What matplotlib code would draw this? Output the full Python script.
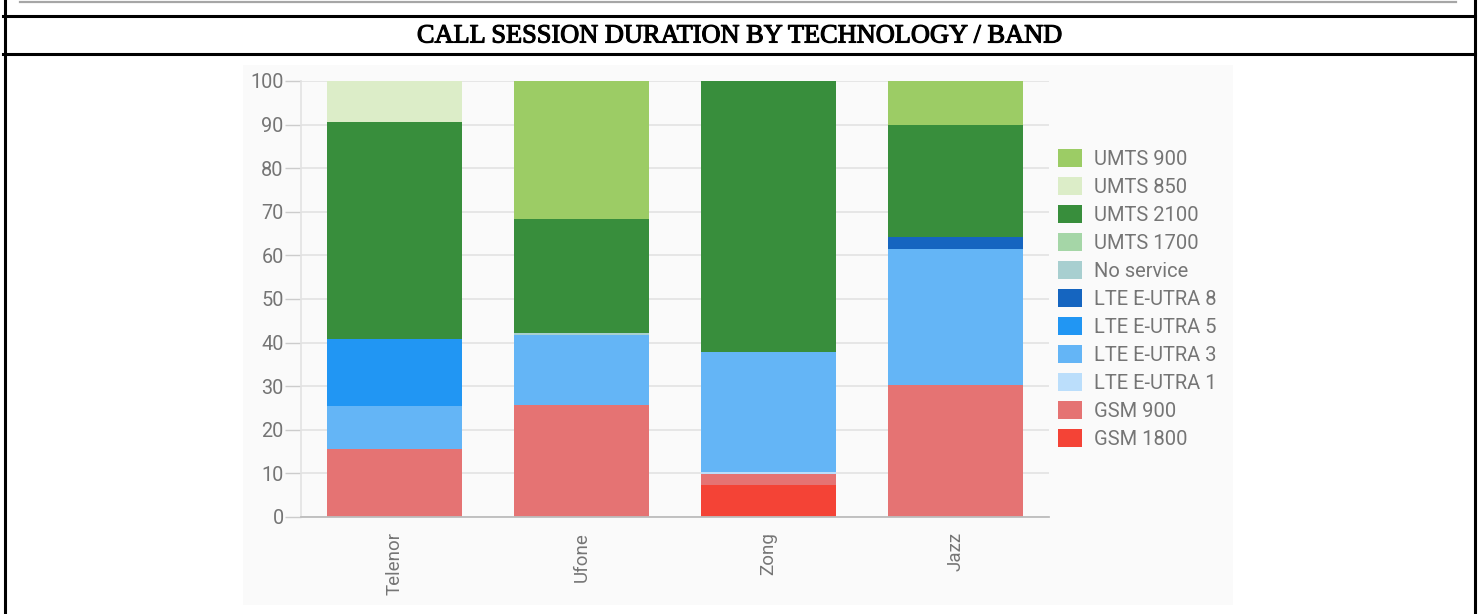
import matplotlib
matplotlib.use("Agg")
import matplotlib.pyplot as plt
from matplotlib.patches import Rectangle, Patch
from matplotlib.lines import Line2D
import matplotlib.patheffects as pe
import numpy as np

# ---- data ----
operators = ["Telenor", "Ufone", "Zong", "Jazz"]
# stacking order from bottom
bands = ["GSM 1800", "GSM 900", "LTE E-UTRA 1", "LTE E-UTRA 3", "LTE E-UTRA 5",
         "LTE E-UTRA 8", "No service", "UMTS 1700", "UMTS 2100", "UMTS 850", "UMTS 900"]
gsm_1800 = [0.0, 0.0, 7.3, 0.0]
gsm_900 = [15.6, 25.7, 2.5, 30.3]
lte_1 = [0.0, 0.0, 0.6, 0.0]
lte_3 = [9.9, 16.0, 27.4, 31.2]
lte_5 = [15.3, 0.0, 0.0, 0.0]
lte_8 = [0.0, 0.0, 0.0, 2.7]
no_service = [0.0, 0.5, 0.0, 0.0]
umts_1700 = [0.0, 0.0, 0.0, 0.0]
umts_2100 = [49.8, 26.1, 62.2, 25.7]
umts_850 = [9.4, 0.0, 0.0, 0.0]
umts_900 = [0.0, 31.7, 0.0, 10.1]
series = [gsm_1800, gsm_900, lte_1, lte_3, lte_5, lte_8, no_service,
          umts_1700, umts_2100, umts_850, umts_900]
colors = ["#f44336", "#e57373", "#bbdefb", "#64b5f6", "#2196f3", "#1565c0",
          "#a8cfd0", "#a5d6a7", "#388e3c", "#dcedc8", "#9ccc65"]
yticks = [0, 10, 20, 30, 40, 50, 60, 70, 80, 90, 100]
title = "CALL SESSION DURATION BY TECHNOLOGY / BAND"

W, H = 1481, 614
fig = plt.figure(figsize=(W / 100, H / 100), dpi=100)
fig.patch.set_facecolor("white")

def fx(px):
    return px / W

def fy(py):
    return 1 - py / H

# frame lines
fig.add_artist(Line2D([fx(20), fx(1456)], [fy(1.5), fy(1.5)], color="#a6a6a6", lw=1.6))
for yy in (15.5, 53.5):
    fig.add_artist(Line2D([fx(3), fx(1475)], [fy(yy), fy(yy)], color="black", lw=2.2))
for xx in (4.5, 1474.5):
    fig.add_artist(Line2D([fx(xx), fx(xx)], [fy(0), fy(614)], color="black", lw=2.2))

# chart background
fig.add_artist(Rectangle((fx(243), fy(605)), fx(1233) - fx(243), fy(65) - fy(605),
                         transform=fig.transFigure, facecolor="#fafafa", edgecolor="none", zorder=0))

# title
t = fig.text(fx(740), fy(42.5), title, ha="center", va="baseline",
             family="Liberation Serif", fontsize=20, color="black",
             path_effects=[pe.withStroke(linewidth=0.8, foreground="black")])
fig.canvas.draw()
bb = t.get_window_extent()
t.set_fontsize(20 * 645 / bb.width)

# axes
ax = fig.add_axes([fx(301), fy(517), fx(1049) - fx(301), fy(81) - fy(517)])
ax.set_facecolor("none")
x = np.arange(len(operators))
bottom = np.zeros(len(operators))
for name, vals, c in zip(bands, series, colors):
    v = np.array(vals)
    ax.bar(x, v, width=0.717, bottom=bottom, color=c, label=name, zorder=3,
           edgecolor="none")
    bottom += v

ax.set_xlim(-0.5, 3.5)
ax.set_ylim(0, 100)
ax.set_yticks(yticks)
ax.set_xticks(x)
ax.set_xticklabels(operators, rotation=90, fontfamily="Roboto", fontsize=13.5, color="#757575")
ax.tick_params(axis="x", length=0, pad=11)
ax.tick_params(axis="y", length=11.5, width=1.0, color="#cccccc", pad=1,
               labelsize=14.3, labelcolor="#757575")
for lbl in ax.get_yticklabels():
    lbl.set_fontfamily("Roboto")
ax.grid(axis="y", color="#e3e3e3", lw=1.2, zorder=0)
for s in ("top", "right"):
    ax.spines[s].set_visible(False)
ax.spines["left"].set_color("#e3e3e3")
ax.spines["left"].set_linewidth(1.2)
ax.spines["bottom"].set_color("#bdbdbd")
ax.spines["bottom"].set_linewidth(1.3)
ax.spines["bottom"].set_zorder(4)

handles = [Patch(facecolor=c, edgecolor="none", label=b) for b, c in zip(bands, colors)][::-1]
leg = fig.legend(handles=handles, loc="upper left", bbox_to_anchor=(fx(1058), fy(149)),
                 frameon=False, prop={"family": "Roboto", "size": 14.5},
                 handlelength=1.2, handleheight=1.0, handletextpad=0.6, labelspacing=0.4,
                 borderaxespad=0, borderpad=0)
for txt in leg.get_texts():
    txt.set_color("#757575")

fig.savefig("out.png", dpi=100, facecolor="white")
